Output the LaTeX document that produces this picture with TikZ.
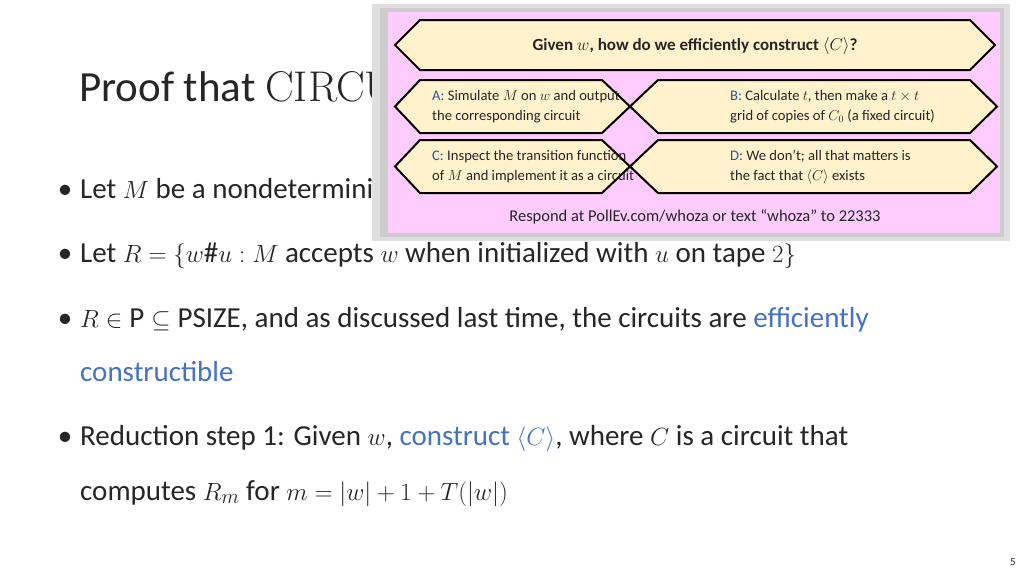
\documentclass[tikz,border=0pt]{standalone}
\usepackage{amsmath,amssymb}
\usepackage{fontspec}
\setmainfont{Carlito}
\newfontfamily\lmr{Latin Modern Roman}
\usetikzlibrary{shapes.misc}
\definecolor{txt}{HTML}{262626}
\definecolor{blu}{HTML}{4472C4}
\definecolor{pinkbg}{HTML}{FFCCFF}
\definecolor{hexfill}{HTML}{FFF2CC}
\definecolor{labblue}{HTML}{2E5597}
\begin{document}
\begin{tikzpicture}[x=1pt,y=-1pt,
  body/.style={anchor=base west,inner sep=0,font=\fontsize{29}{32}\selectfont,text=txt},
  hexa/.style={draw=black,line width=2pt,fill=hexfill},
  ptxt/.style={anchor=west,inner sep=0,font=\fontsize{14.6}{20}\selectfont,text=txt,align=left}]
\useasboundingbox (0,0) rectangle (1024,576);
\fill[white] (0,0) rectangle (1024,576);
\node[anchor=base west,inner sep=0,font=\fontsize{43}{45}\selectfont,text=txt] (title) at (79,101) {Proof that {\lmr CIRCU}};
\node[body] (l1) at (80,198) {\llap{\textbullet\hspace{8pt}}Let $M$ be a nondeterministic};
\node[body] (l2) at (80,262) {\llap{\textbullet\hspace{8pt}}Let $R=\{w\#u : M\ \text{accepts}\ w\ \text{when initialized with}\ u\ \text{on tape}\ 2\}$};
\node[body] (l3) at (80,327) {\llap{\textbullet\hspace{8pt}}$R\in \mathrm{P}\subseteq \mathrm{PSIZE}$, and as discussed last time, the circuits are \textcolor{blu}{efficiently}};
\node[body] (l4) at (80,381) {\textcolor{blu}{constructible}};
\node[body] (l5) at (80,445) {\llap{\textbullet\hspace{8pt}}Reduction step 1: Given $w$, \textcolor{blu}{construct $\langle C\rangle$}, where $C$ is a circuit that};
\node[body] (l6) at (80,500) {computes $R_m$ for $m=|w|+1+T(|w|)$};
\node[anchor=base east,inner sep=0,font=\fontsize{11}{12}\selectfont,text=txt] (pg) at (1016,565) {5};
% poll overlay
\fill[gray!25] (372,4) rectangle (1010,241);
\fill[gray!40] (380,8) rectangle (1004,237);
\fill[pinkbg] (388,12) rectangle (1000,233);
\draw[hexa] (420,20) -- (970,20) -- (995,45) -- (970,70) -- (420,70) -- (395,45) -- cycle;
\node[inner sep=0,font=\bfseries\fontsize{17}{20}\selectfont,text=txt] (q) at (695,46) {Given $w$, how do we efficiently construct $\langle C\rangle$?};
\foreach \ya/\yb in {80/133,140/193}{
  \draw[hexa] (420,\ya) -- (602,\ya) -- (630,{(\ya+\yb)/2}) -- (602,\yb) -- (420,\yb) -- (395,{(\ya+\yb)/2}) -- cycle;
  \draw[hexa] (658,\ya) -- (970,\ya) -- (997,{(\ya+\yb)/2}) -- (970,\yb) -- (658,\yb) -- (630,{(\ya+\yb)/2}) -- cycle;
}
\node[ptxt] (a) at (432,107) {\textcolor{labblue}{A:} Simulate $M$ on $w$ and output\\the corresponding circuit};
\node[ptxt] (b) at (730,107) {\textcolor{labblue}{B:} Calculate $t$, then make a $t\times t$\\grid of copies of $C_0$ (a fixed circuit)};
\node[ptxt] (c) at (432,167) {\textcolor{labblue}{C:} Inspect the transition function\\of $M$ and implement it as a circuit};
\node[ptxt] (d) at (730,167) {\textcolor{labblue}{D:} We don’t; all that matters is\\the fact that $\langle C\rangle$ exists};
\node[inner sep=0,font=\fontsize{16.5}{18}\selectfont,text=txt] (r) at (695,217) {Respond at PollEv.com/whoza or text “whoza” to 22333};
\end{tikzpicture}
\end{document}
